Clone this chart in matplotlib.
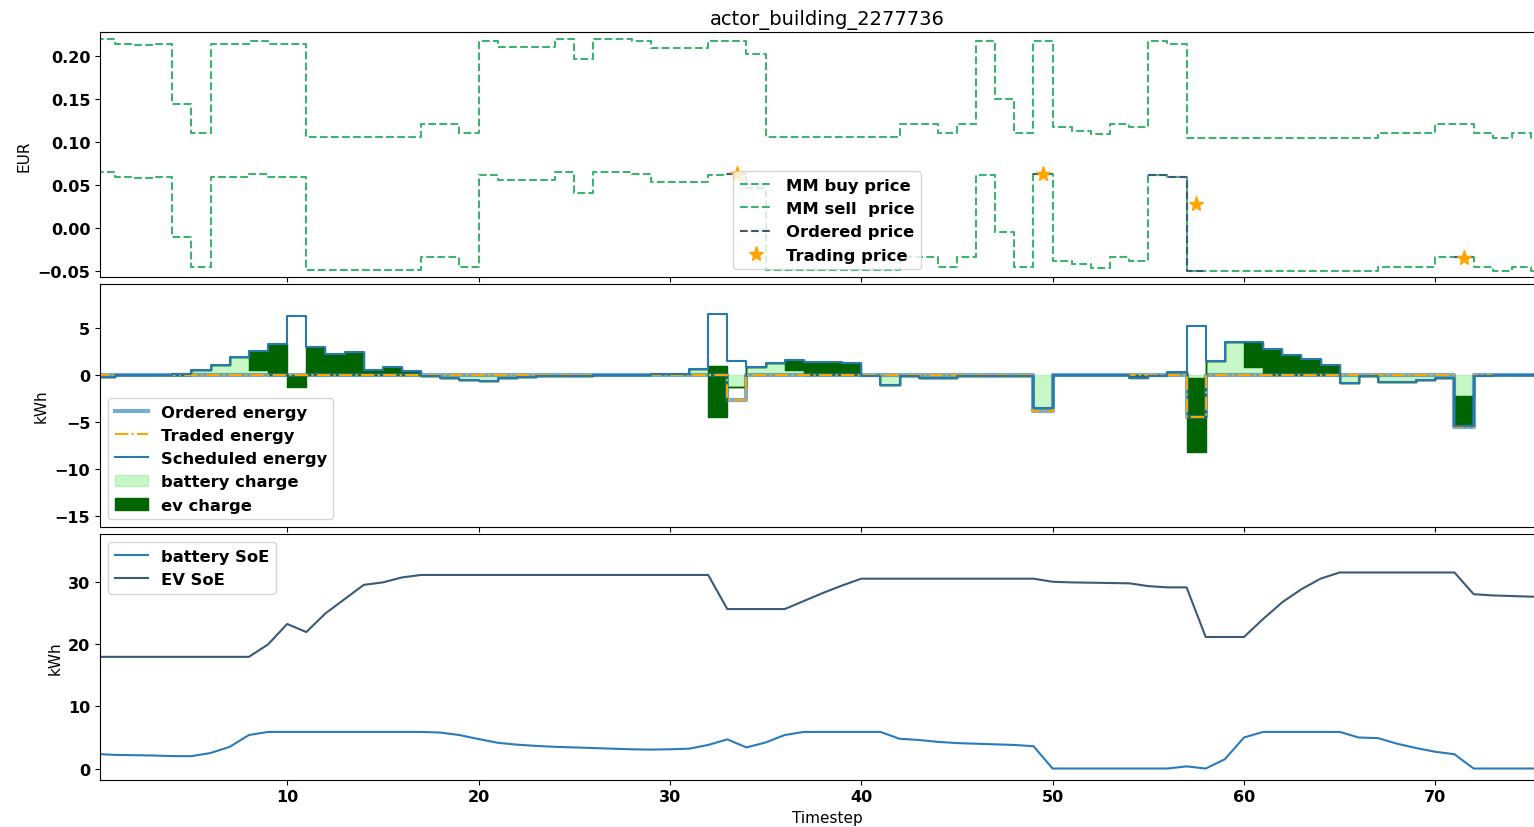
import numpy as np
import matplotlib
matplotlib.use("Agg")
import matplotlib.pyplot as plt
from matplotlib.ticker import MultipleLocator

plt.rcParams['font.family'] = ['DejaVu Sans']
plt.rcParams['font.size'] = 11
plt.rcParams['xtick.labelsize'] = 11.5
plt.rcParams['ytick.labelsize'] = 11.5

# ---------------- data ----------------
timesteps = list(range(0, 77))

mm_buy_price = [0.220, 0.214, 0.213, 0.214, 0.144, 0.110, 0.214, 0.214, 0.218, 0.214,
                0.214, 0.106, 0.106, 0.106, 0.106, 0.106, 0.106, 0.121, 0.121, 0.110,
                0.217, 0.211, 0.211, 0.211, 0.220, 0.196, 0.220, 0.220, 0.218, 0.209,
                0.209, 0.209, 0.217, 0.218, 0.202, 0.106, 0.106, 0.106, 0.106, 0.106,
                0.106, 0.106, 0.121, 0.121, 0.110, 0.121, 0.217, 0.150, 0.110, 0.218,
                0.117, 0.113, 0.109, 0.121, 0.117, 0.217, 0.214, 0.105, 0.105, 0.105,
                0.105, 0.105, 0.105, 0.105, 0.105, 0.105, 0.105, 0.110, 0.110, 0.110,
                0.121, 0.121, 0.110, 0.105, 0.110, 0.105, 0.105]

mm_sell_price = [0.065, 0.059, 0.058, 0.059, -0.011, -0.045, 0.059, 0.059, 0.063, 0.059,
                 0.059, -0.049, -0.049, -0.049, -0.049, -0.049, -0.049, -0.034, -0.034, -0.045,
                 0.062, 0.056, 0.056, 0.056, 0.065, 0.041, 0.065, 0.065, 0.063, 0.054,
                 0.054, 0.054, 0.062, 0.063, 0.047, -0.049, -0.049, -0.049, -0.049, -0.049,
                 -0.049, -0.049, -0.034, -0.034, -0.045, -0.034, 0.062, -0.005, -0.045, 0.063,
                 -0.038, -0.042, -0.046, -0.034, -0.038, 0.062, 0.059, -0.050, -0.050, -0.050,
                 -0.050, -0.050, -0.050, -0.050, -0.050, -0.050, -0.050, -0.045, -0.045, -0.045,
                 -0.034, -0.034, -0.045, -0.050, -0.045, -0.050, -0.050]

nan = float('nan')
ordered_price = [nan] * 33 + [0.063] + [nan] * 15 + [0.063] + [nan] * 5 + \
                [0.062, 0.059, -0.050] + [nan] * 13 + [-0.034] + [nan] * 5

trade_steps = [33, 49, 57, 71]
trading_price = [0.063, 0.063, 0.028, -0.035]

scheduled_energy = [-0.25, -0.05, -0.05, -0.05, 0.10, 0.53, 1.06, 1.95, 2.50, 3.30,
                    6.30, 3.00, 2.23, 2.48, 0.53, 0.89, 0.46, -0.07, -0.28, -0.53,
                    -0.64, -0.32, -0.20, -0.14, -0.07, -0.07, -0.05, -0.05, -0.03, 0.12,
                    0.14, 0.64, 6.50, 1.45, 0.82, 1.28, 1.63, 1.42, 1.42, 1.24,
                    -0.14, -1.03, -0.07, -0.30, -0.28, -0.10, -0.10, -0.08, -0.07, -3.50,
                    -0.05, -0.05, -0.04, -0.04, -0.35, -0.10, 0.35, 5.25, 1.52, 3.55,
                    3.50, 2.77, 2.16, 1.70, 1.10, -0.85, -0.14, -0.71, -0.71, -0.57,
                    -0.32, -5.40, -0.14, -0.05, -0.05, -0.05, -0.05]

ordered_energy = [0.0] * 33 + [-2.65] + [0.0] * 15 + [-3.85] + [0.0] * 7 + \
                 [-4.45] + [0.0] * 13 + [-5.50] + [0.0] * 5

traded_energy = [0.0] * 33 + [-2.65] + [0.0] * 15 + [-3.85] + [0.0] * 7 + \
                [-4.45] + [0.0] * 13 + [-5.50] + [0.0] * 5

battery_charge = [-0.20, -0.05, -0.05, -0.05, 0.00, 0.53, 1.06, 1.95, 0.50, 0.00,
                  0.00, 0.00, 0.00, 0.00, 0.00, 0.00, 0.00, -0.07, -0.28, -0.53,
                  -0.64, -0.32, -0.20, -0.14, -0.07, -0.07, -0.05, -0.05, -0.03, 0.12,
                  0.14, 0.64, 0.90, -1.30, 0.82, 1.28, 0.50, 0.00, 0.00, 0.00,
                  0.00, -1.03, -0.07, -0.30, -0.28, -0.10, -0.10, -0.08, -0.07, -3.50,
                  0.00, 0.00, 0.00, 0.00, 0.00, 0.00, 0.35, -0.30, 1.52, 3.55,
                  0.80, 0.00, 0.00, 0.00, 0.00, -0.85, -0.14, -0.71, -0.71, -0.57,
                  -0.32, -2.20, 0.00, 0.00, 0.00, 0.00, 0.00]

ev_charge = [0.00, 0.00, 0.00, 0.00, 0.00, 0.00, 0.00, 0.00, 2.00, 3.30,
             -1.24, 3.00, 2.23, 2.48, 0.53, 0.89, 0.46, 0.00, 0.00, 0.00,
             0.00, 0.00, 0.00, 0.00, 0.00, 0.00, 0.00, 0.00, 0.00, 0.00,
             0.00, 0.00, -5.40, 0.00, 0.00, 0.00, 1.13, 1.42, 1.42, 1.24,
             0.00, 0.00, 0.00, 0.00, 0.00, 0.00, 0.00, 0.00, 0.00, 0.00,
             0.00, 0.00, 0.00, 0.00, -0.35, 0.00, 0.00, -7.90, 0.00, 0.00,
             2.70, 2.77, 2.16, 1.70, 1.10, 0.00, 0.00, 0.00, 0.00, 0.00,
             0.00, -3.20, 0.00, 0.00, 0.00, 0.00, 0.00]

battery_soe = [2.35, 2.20, 2.15, 2.10, 2.00, 2.00, 2.50, 3.50, 5.40, 5.90,
               5.90, 5.90, 5.90, 5.90, 5.90, 5.90, 5.90, 5.90, 5.80, 5.40,
               4.75, 4.15, 3.85, 3.65, 3.50, 3.40, 3.30, 3.20, 3.10, 3.05,
               3.10, 3.20, 3.80, 4.70, 3.40, 4.20, 5.40, 5.90, 5.90, 5.90,
               5.90, 5.90, 4.80, 4.60, 4.30, 4.10, 4.00, 3.90, 3.80, 3.60,
               0.00, 0.00, 0.00, 0.00, 0.00, 0.00, 0.00, 0.35, 0.00, 1.50,
               5.00, 5.90, 5.90, 5.90, 5.90, 5.90, 5.00, 4.90, 4.00, 3.30,
               2.70, 2.30, 0.00, 0.00, 0.00, 0.00, 0.00]

ev_soe = [18.0, 18.0, 18.0, 18.0, 18.0, 18.0, 18.0, 18.0, 18.0, 20.0,
          23.3, 22.0, 25.0, 27.3, 29.6, 30.0, 30.8, 31.2, 31.2, 31.2,
          31.2, 31.2, 31.2, 31.2, 31.2, 31.2, 31.2, 31.2, 31.2, 31.2,
          31.2, 31.2, 31.2, 25.7, 25.7, 25.7, 25.7, 27.0, 28.3, 29.5,
          30.6, 30.6, 30.6, 30.6, 30.6, 30.6, 30.6, 30.6, 30.6, 30.6,
          30.1, 30.0, 29.95, 29.9, 29.85, 29.4, 29.2, 29.2, 21.2, 21.2,
          21.2, 24.1, 26.8, 28.9, 30.6, 31.6, 31.6, 31.6, 31.6, 31.6,
          31.6, 31.6, 28.1, 27.9, 27.8, 27.7, 27.6]

# ---------------- figure ----------------
W, H = 1534, 828
fig = plt.figure(figsize=(W / 100, H / 100), dpi=100)

left = 100 / W
width = (1554 - 100) / W  # axes run past the right edge of the picture


def box(top_px, bottom_px):
    return [left, (H - bottom_px) / H, width, (bottom_px - top_px) / H]


ax1 = fig.add_axes(box(33.3, 278.3))
ax2 = fig.add_axes(box(284.7, 528.3), sharex=ax1)
ax3 = fig.add_axes(box(535.0, 780.7), sharex=ax1)

t = np.array(timesteps)
green = 'mediumseagreen'
dark = '#3b5a78'
legend_font = {'weight': 'bold', 'size': 11.8}

# ---- top: prices ----
ax1.step(t, mm_buy_price, where='post', color=green, ls='--', lw=1.5, label='MM buy price')
ax1.step(t, mm_sell_price, where='post', color=green, ls='--', lw=1.5, label='MM sell  price')
ax1.step(t, ordered_price, where='post', color=dark, ls='--', lw=1.5, label='Ordered price')
ax1.plot(np.array(trade_steps) + 0.5, trading_price, ls='none', marker='*', ms=11,
         color='orange', label='Trading price')
ax1.set_ylim(-0.0573, 0.2276)
ax1.set_ylabel('EUR')
ax1.set_title('actor_building_2277736', fontsize=14)
ax1.legend(loc='lower center', prop=legend_font)

# ---- middle: energy ----
bat = np.array(battery_charge)
ev = np.array(ev_charge)
ax2.fill_between(t, 0, bat, step='post', color='lightgreen', alpha=0.5, lw=1,
                 label='battery charge')
ax2.fill_between(t, bat, bat + ev, step='post', color='darkgreen', lw=1,
                 label='ev charge')
ax2.step(t, ordered_energy, where='post', color='#1f77b4', alpha=0.6, lw=3,
         label='Ordered energy')
ax2.step(t, traded_energy, where='post', color='orange', ls='-.', lw=1.5,
         label='Traded energy')
ax2.step(t, scheduled_energy, where='post', color='#2a78b0', lw=1.5,
         label='Scheduled energy')
ax2.set_ylim(-16.2, 9.7)
ax2.set_ylabel('kWh')
h, l = ax2.get_legend_handles_labels()
order = [l.index(k) for k in ['Ordered energy', 'Traded energy', 'Scheduled energy',
                              'battery charge', 'ev charge']]
ax2.legend([h[i] for i in order], [l[i] for i in order], loc='lower left',
           prop=legend_font)

# ---- bottom: state of energy ----
ax3.plot(t, battery_soe, color='#2b7bba', lw=1.5, label='battery SoE')
ax3.plot(t, ev_soe, color=dark, lw=1.5, label='EV SoE')
ax3.set_ylim(-1.8, 37.8)
ax3.yaxis.set_major_locator(MultipleLocator(10))
ax3.set_ylabel('kWh')
ax3.set_xlabel('Timestep')
ax3.legend(loc='upper left', prop=legend_font)

ax1.set_xlim(0.22, 76.2)
ax1.tick_params(labelbottom=False)
ax2.tick_params(labelbottom=False)
for ax in (ax1, ax2, ax3):
    for lab in ax.get_yticklabels() + ax.get_xticklabels():
        lab.set_fontweight('bold')

fig.savefig('out.png', dpi=100)
